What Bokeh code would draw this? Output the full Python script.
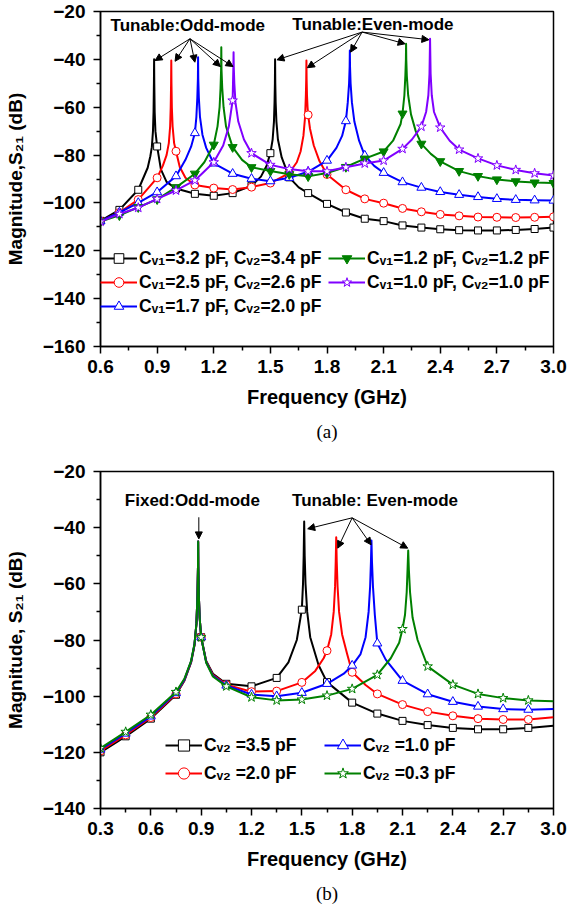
from bokeh.plotting import figure
from bokeh.layouts import column
from bokeh.models import (Range1d, FixedTicker, PrintfTickFormatter, Legend, LegendItem,
                          Label, Arrow, NormalHead, Title)
from bokeh.embed import file_html
from bokeh.resources import INLINE

FONT = "Liberation Sans"

# ---------------- panel (a) data: frequency (GHz), S21 (dB) ----------------
a_black_f = [0.6,0.7,0.8,0.85,0.864,0.872,0.878,0.881,0.883,0.884,0.885,0.887,0.891,0.9,0.92,0.95,1.0,1.1,1.2,1.3,1.4,1.45,1.48,1.5,1.512,1.519,1.522,1.524,1.525,1.526,1.528,1.532,1.54,1.56,1.6,1.65,1.7,1.8,1.9,2.0,2.1,2.2,2.3,2.4,2.5,2.6,2.7,2.8,2.9,3.0]
a_black_db = [-107.5,-102.9,-94.5,-85.3,-80.5,-76.7,-70,-62,-50,-40,-50,-62,-70,-76.4,-86,-91.2,-94,-96.2,-97,-95.9,-92.8,-89,-84.5,-79.2,-73.5,-66,-58,-50,-40,-50,-58,-66,-73.5,-81,-89.3,-93.5,-95.9,-100.4,-104,-106.6,-107.6,-109.4,-110.3,-111,-111.4,-111.5,-111.5,-111.3,-110.9,-110.3]

a_red_f = [0.6,0.7,0.8,0.9,0.93,0.95,0.962,0.969,0.972,0.974,0.975,0.976,0.978,0.982,0.99,1.0,1.02,1.05,1.1,1.2,1.3,1.4,1.5,1.6,1.64,1.66,1.675,1.684,1.688,1.69,1.691,1.692,1.694,1.697,1.7,1.71,1.73,1.76,1.8,1.9,2.0,2.1,2.2,2.3,2.4,2.5,2.6,2.7,2.8,2.9,3.0]
a_red_db = [-107.6,-104,-98.6,-89.5,-84.5,-80,-75,-68,-60,-50,-40.5,-50,-60,-68,-75,-78.4,-85,-89.5,-92.5,-93.8,-94.4,-93.4,-91.7,-87.5,-83,-78.5,-72,-64,-55,-48,-40.5,-48,-55,-60,-63.2,-69,-76,-82.5,-88.1,-94.5,-98.3,-100.1,-102.3,-103.7,-104.8,-105.4,-105.9,-106,-106.1,-106,-105.8]

a_blue_f = [0.6,0.7,0.8,0.9,1.0,1.05,1.08,1.1,1.108,1.113,1.116,1.117,1.118,1.121,1.127,1.14,1.16,1.2,1.3,1.4,1.5,1.6,1.7,1.8,1.85,1.88,1.9,1.91,1.917,1.92,1.921,1.922,1.925,1.932,1.945,1.97,2.0,2.05,2.1,2.2,2.3,2.4,2.5,2.6,2.7,2.8,2.9,3.0]
a_blue_db = [-107.6,-104,-100,-95.5,-88.8,-82,-76.5,-70.8,-64,-56,-48,-39.1,-48,-56,-64,-71.5,-77,-83.5,-87.8,-89.9,-90.9,-89.5,-87,-82.3,-77,-72,-65.8,-58,-50,-43,-36.3,-43,-50,-58,-66,-74,-80.2,-84.5,-87.4,-91.3,-93.6,-95.4,-96.6,-97.5,-98.3,-98.7,-98.9,-99]

a_green_f = [0.6,0.7,0.8,0.9,1.0,1.1,1.15,1.2,1.22,1.231,1.236,1.239,1.24,1.241,1.245,1.252,1.265,1.3,1.35,1.4,1.5,1.6,1.7,1.8,1.9,2.0,2.1,2.15,2.19,2.2,2.21,2.215,2.218,2.219,2.22,2.223,2.23,2.245,2.27,2.3,2.35,2.4,2.5,2.6,2.7,2.8,2.9,3.0]
a_green_db = [-107.8,-105.2,-101.8,-98.5,-93.5,-87.8,-83,-75.7,-68,-60,-52,-44,-34.9,-44,-52,-60,-68,-76.7,-82,-85.1,-86.7,-88,-88.9,-87.5,-85,-81.5,-78.5,-74,-67,-62.7,-55,-47,-40,-33.5,-40,-47,-55,-63,-70,-75.3,-79.5,-82.6,-86.7,-88.8,-90.2,-91,-91.5,-91.7]

a_purple_f = [0.6,0.7,0.8,0.9,1.0,1.1,1.2,1.25,1.28,1.3,1.302,1.304,1.305,1.306,1.309,1.315,1.33,1.36,1.4,1.5,1.6,1.7,1.8,1.9,2.0,2.1,2.2,2.25,2.3,2.325,2.337,2.343,2.346,2.349,2.355,2.367,2.4,2.45,2.5,2.6,2.7,2.8,2.9,3.0]
a_purple_db = [-107.8,-104.6,-102,-98.3,-94.8,-90.6,-83,-76,-68,-57.2,-50,-43,-37,-43,-50,-58,-66,-73.5,-79.2,-84.1,-85.8,-86.8,-86.8,-85.1,-83.5,-82.3,-77.4,-73.5,-68.1,-62,-55,-46,-31.4,-46,-55,-62,-68.5,-74,-77.7,-81.4,-84.3,-86.2,-87.6,-88.5]

a_marker_f = [0.6,0.7,0.8,0.9,1.0,1.1,1.2,1.3,1.4,1.5,1.6,1.7,1.8,1.9,2.0,2.1,2.2,2.3,2.4,2.5,2.6,2.7,2.8,2.9,3.0]

a_labels = ["C\u1d65\u2081=3.2 pF, C\u1d65\u2082=3.4 pF",
            "C\u1d65\u2081=2.5 pF, C\u1d65\u2082=2.6 pF",
            "C\u1d65\u2081=1.7 pF, C\u1d65\u2082=2.0 pF",
            "C\u1d65\u2081=1.2 pF, C\u1d65\u2082=1.2 pF",
            "C\u1d65\u2081=1.0 pF, C\u1d65\u2082=1.0 pF"]

a_xticks = [0.6, 0.9, 1.2, 1.5, 1.8, 2.1, 2.4, 2.7, 3.0]
a_xminor = [0.75, 1.05, 1.35, 1.65, 1.95, 2.25, 2.55, 2.85]
a_yticks = [-160, -140, -120, -100, -80, -60, -40, -20]
a_yminor = [-150, -130, -110, -90, -70, -50, -30]

a_odd_text = ["Tunable:Odd-mode", 0.653, -25.9]
a_even_text = ["Tunable:Even-mode", 1.616, -25.4]
a_odd_start = [1.074, -31.4]
a_odd_end_f = [0.889, 0.995, 1.100, 1.235, 1.302]
a_odd_end_db = [-40.5, -40.8, -41.2, -43.0, -43.0]
a_even_start = [1.986, -28.6]
a_even_end_f = [1.535, 1.696, 1.925, 2.214, 2.340]
a_even_end_db = [-40.2, -43.5, -37.0, -33.5, -31.8]

# ---------------- panel (b) data ----------------
b_black_f = [0.3,0.45,0.6,0.75,0.8,0.84,0.86,0.872,0.878,0.881,0.882,0.883,0.886,0.891,0.9,0.93,0.97,1.05,1.2,1.35,1.42,1.47,1.5,1.507,1.511,1.514,1.517,1.522,1.532,1.55,1.6,1.65,1.8,1.95,2.1,2.25,2.4,2.55,2.7,2.85,3.0]
b_black_db = [-120,-114.3,-108,-99.5,-94.5,-88,-82,-74,-64,-54,-44.9,-54,-64,-72,-79,-87.5,-92,-95.6,-96.5,-93.5,-88,-80,-69.2,-60,-50,-37.8,-50,-60,-70,-79,-89,-95,-102.3,-106.2,-108.8,-110.3,-111.3,-111.8,-111.8,-111.3,-110.5]

b_red_f = [0.3,0.45,0.6,0.75,0.8,0.84,0.86,0.872,0.878,0.881,0.882,0.883,0.886,0.891,0.9,0.93,0.97,1.05,1.2,1.35,1.5,1.58,1.63,1.65,1.675,1.69,1.698,1.702,1.705,1.708,1.713,1.722,1.74,1.77,1.8,1.88,1.95,2.1,2.25,2.4,2.55,2.7,2.85,3.0]
b_red_db = [-119.5,-113.8,-107.6,-99.2,-94.3,-87.8,-81.8,-74,-64,-54,-44.9,-54,-64,-72,-79,-87.7,-92.4,-95.9,-98.4,-98.2,-95.1,-91,-86.5,-83.8,-78,-70,-61,-52,-43.4,-52,-61,-70,-78,-85,-91.5,-96,-99.2,-103,-105.5,-107,-108,-108.3,-108.3,-107.5]

b_blue_f = [0.3,0.45,0.6,0.75,0.8,0.84,0.86,0.872,0.878,0.881,0.882,0.883,0.886,0.891,0.9,0.93,0.97,1.05,1.2,1.35,1.5,1.65,1.75,1.8,1.85,1.88,1.898,1.907,1.912,1.915,1.918,1.924,1.935,1.95,2.0,2.1,2.25,2.4,2.55,2.7,2.85,3.0]
b_blue_db = [-119,-113.3,-107.2,-98.9,-94.1,-87.6,-81.6,-74,-64,-54,-44.9,-54,-64,-72,-79,-87.9,-92.7,-96.2,-99.4,-100,-98.8,-95.6,-92,-89.1,-85,-79,-70,-61,-52,-44.6,-52,-61,-71,-81.2,-87,-94.5,-99.3,-102,-103.7,-104.6,-104.8,-104.6]

b_green_f = [0.3,0.45,0.6,0.75,0.8,0.84,0.86,0.872,0.878,0.881,0.882,0.883,0.886,0.891,0.9,0.93,0.97,1.05,1.2,1.35,1.5,1.65,1.8,1.95,2.03,2.08,2.1,2.115,2.125,2.13,2.134,2.138,2.145,2.16,2.19,2.25,2.4,2.55,2.7,2.85,3.0]
b_green_db = [-118.5,-112.7,-106.6,-98.5,-93.8,-87.4,-81.4,-74,-64,-54,-44.9,-54,-64,-72,-79,-88.1,-93,-96.5,-100.4,-101.5,-101.2,-99.8,-97.4,-92.4,-86.5,-81,-76.1,-71,-63,-55,-48.1,-55,-63,-72,-80,-89.4,-95.9,-99.2,-100.7,-101.5,-101.8]

b_marker_f = [0.3,0.45,0.6,0.75,0.9,1.05,1.2,1.35,1.5,1.65,1.8,1.95,2.1,2.25,2.4,2.55,2.7,2.85]

b_labels = ["C\u1d65\u2082 =3.5 pF", "C\u1d65\u2082 =2.0 pF",
            "C\u1d65\u2082 =1.0 pF", "C\u1d65\u2082 =0.3 pF"]

b_xticks = [0.3, 0.6, 0.9, 1.2, 1.5, 1.8, 2.1, 2.4, 2.7, 3.0]
b_xminor = [0.45, 0.75, 1.05, 1.35, 1.65, 1.95, 2.25, 2.55, 2.85]
b_yticks = [-140, -120, -100, -80, -60, -40, -20]
b_yminor = [-130, -110, -90, -70, -50, -30]

b_odd_text = ["Fixed:Odd-mode", 0.445, -30.3]
b_even_text = ["Tunable: Even-mode", 1.442, -30.3]
b_odd_start = [0.886, -36.3]
b_odd_end = [0.886, -44.0]
b_even_start = [1.80, -36.5]
b_even_end_f = [1.535, 1.714, 1.913, 2.131]
b_even_end_db = [-40.4, -47.3, -46.1, -47.3]

COLORS = ["#000000", "#ff0000", "#0000ff", "#008000", "#8000ff"]


def check(*pairs):
    for f, d in pairs:
        if len(f) != len(d):
            raise ValueError("length mismatch %d %d" % (len(f), len(d)))


check((a_black_f, a_black_db), (a_red_f, a_red_db), (a_blue_f, a_blue_db),
      (a_green_f, a_green_db), (a_purple_f, a_purple_db),
      (b_black_f, b_black_db), (b_red_f, b_red_db), (b_blue_f, b_blue_db),
      (b_green_f, b_green_db))


def pick(fs, ds, grid):
    xs, ys = [], []
    for f, d in zip(fs, ds):
        if any(abs(f - g) < 1e-9 for g in grid):
            xs.append(f)
            ys.append(d)
    return xs, ys


def make_fig(height, xr, yr, xt, xm, yt, ym, top, bottom, right, ylabel, tag):
    p = figure(width=571, height=height, x_range=Range1d(*xr), y_range=Range1d(*yr),
               output_backend="svg", toolbar_location=None,
               min_border_left=100, min_border_right=right,
               min_border_top=top, min_border_bottom=bottom)
    p.xgrid.visible = False
    p.ygrid.visible = False
    p.outline_line_color = "black"
    p.outline_line_width = 1.5
    p.outline_line_alpha = 1.0
    p.background_fill_color = "white"
    p.border_fill_color = "white"
    p.xaxis.ticker = FixedTicker(ticks=xt, minor_ticks=xm)
    p.yaxis.ticker = FixedTicker(ticks=yt, minor_ticks=ym)
    p.xaxis.formatter = PrintfTickFormatter(format="%.1f")
    for ax in (p.xaxis[0], p.yaxis[0]):
        ax.axis_line_width = 1.5
        ax.axis_line_color = "black"
        ax.major_tick_line_width = 1.5
        ax.minor_tick_line_width = 1.5
        ax.major_tick_line_color = "black"
        ax.minor_tick_line_color = "black"
        ax.major_tick_in = 0
        ax.major_tick_out = 7
        ax.minor_tick_in = 0
        ax.minor_tick_out = 4
        ax.major_label_text_font = FONT
        ax.major_label_text_font_style = "bold"
        ax.major_label_text_font_size = "19px"
        ax.major_label_text_color = "black"
        ax.axis_label_text_font = FONT
        ax.axis_label_text_font_style = "bold"
        ax.axis_label_text_color = "black"
    p.xaxis.axis_label = "Frequency (GHz)"
    p.xaxis.axis_label_text_font_size = "20px"
    p.xaxis.major_label_standoff = 6
    p.xaxis.axis_label_standoff = 10
    p.yaxis.axis_label = ylabel
    p.yaxis.axis_label_text_font_size = "19px"
    p.yaxis.major_label_standoff = 8
    p.yaxis.axis_label_standoff = 14
    p.add_layout(Title(text=tag, align="center", text_font="Liberation Serif",
                       text_font_style="normal", text_font_size="19px",
                       text_color="black", standoff=17), "below")
    return p


def add_series(p, fs, ds, grid, color, marker, size, filled):
    lr = p.line(fs, ds, line_color=color, line_width=2, line_join="round")
    mx, my = pick(fs, ds, grid)
    sr = p.scatter(mx, my, marker=marker, size=size, line_color=color, line_width=1,
                   fill_color=color if filled else "white")
    return [lr, sr]


def style_legend(leg, row_h):
    leg.label_text_font = FONT
    leg.label_text_font_style = "bold"
    leg.label_text_font_size = "17.5px"
    leg.label_text_color = "black"
    leg.glyph_width = 37
    leg.glyph_height = row_h
    leg.label_height = row_h
    leg.label_standoff = 2
    leg.spacing = 0
    leg.padding = 0
    leg.margin = 0
    leg.border_line_alpha = 0
    leg.background_fill_alpha = 0


def add_text(p, spec):
    p.add_layout(Label(x=spec[1], y=spec[2], text=spec[0], text_font=FONT,
                       text_font_style="bold", text_font_size="17px", text_color="black",
                       text_align="left", text_baseline="middle"))


def add_arrow(p, x0, y0, x1, y1):
    p.add_layout(Arrow(x_start=x0, y_start=y0, x_end=x1, y_end=y1, line_width=1,
                       line_color="black",
                       end=NormalHead(size=7, line_color="black", fill_color="black",
                                      line_width=1)))


# ---------------- panel (a) ----------------
pa = make_fig(455, (0.6, 3.0), (-160, -20), a_xticks, a_xminor, a_yticks, a_yminor,
              11, 109, 15, "Magnitude,S\u2082\u2081 (dB)", "(a)")
ra = [
    add_series(pa, a_black_f, a_black_db, a_marker_f, COLORS[0], "square", 7, False),
    add_series(pa, a_red_f, a_red_db, a_marker_f, COLORS[1], "circle", 8, False),
    add_series(pa, a_blue_f, a_blue_db, a_marker_f, COLORS[2], "triangle", 9, False),
    add_series(pa, a_green_f, a_green_db, a_marker_f, COLORS[3], "inverted_triangle", 9, True),
    add_series(pa, a_purple_f, a_purple_db, a_marker_f, COLORS[4], "star", 10, False),
]
leg_a1 = Legend(items=[LegendItem(label=a_labels[i], renderers=ra[i]) for i in range(3)],
                location=(0, 28))
leg_a2 = Legend(items=[LegendItem(label=a_labels[i], renderers=ra[i]) for i in range(3, 5)],
                location=(228, 52))
for lg in (leg_a1, leg_a2):
    style_legend(lg, 24)
    pa.add_layout(lg)

add_text(pa, a_odd_text)
add_text(pa, a_even_text)
for xf, yd in zip(a_odd_end_f, a_odd_end_db):
    add_arrow(pa, a_odd_start[0], a_odd_start[1], xf, yd)
for xf, yd in zip(a_even_end_f, a_even_end_db):
    add_arrow(pa, a_even_start[0], a_even_start[1], xf, yd)

# ---------------- panel (b) ----------------
pb = make_fig(457, (0.3, 3.0), (-140, -20), b_xticks, b_xminor, b_yticks, b_yminor,
              16, 104, 18, "Magnitude, S\u2082\u2081 (dB)", "(b)")
rb = [
    add_series(pb, b_black_f, b_black_db, b_marker_f, COLORS[0], "square", 7, False),
    add_series(pb, b_red_f, b_red_db, b_marker_f, COLORS[1], "circle", 8, False),
    add_series(pb, b_blue_f, b_blue_db, b_marker_f, COLORS[2], "triangle", 9, False),
    add_series(pb, b_green_f, b_green_db, b_marker_f, COLORS[3], "star", 10, False),
]
leg_b1 = Legend(items=[LegendItem(label=b_labels[i], renderers=rb[i]) for i in (0, 1)],
                location=(65, 21))
leg_b2 = Legend(items=[LegendItem(label=b_labels[i], renderers=rb[i]) for i in (2, 3)],
                location=(224, 21))
for lg in (leg_b1, leg_b2):
    style_legend(lg, 28)
    pb.add_layout(lg)

add_text(pb, b_odd_text)
add_text(pb, b_even_text)
add_arrow(pb, b_odd_start[0], b_odd_start[1], b_odd_end[0], b_odd_end[1])
for xf, yd in zip(b_even_end_f, b_even_end_db):
    add_arrow(pb, b_even_start[0], b_even_start[1], xf, yd)

layout = column(pa, pb)
open("out.html", "w").write(file_html(layout, INLINE))
